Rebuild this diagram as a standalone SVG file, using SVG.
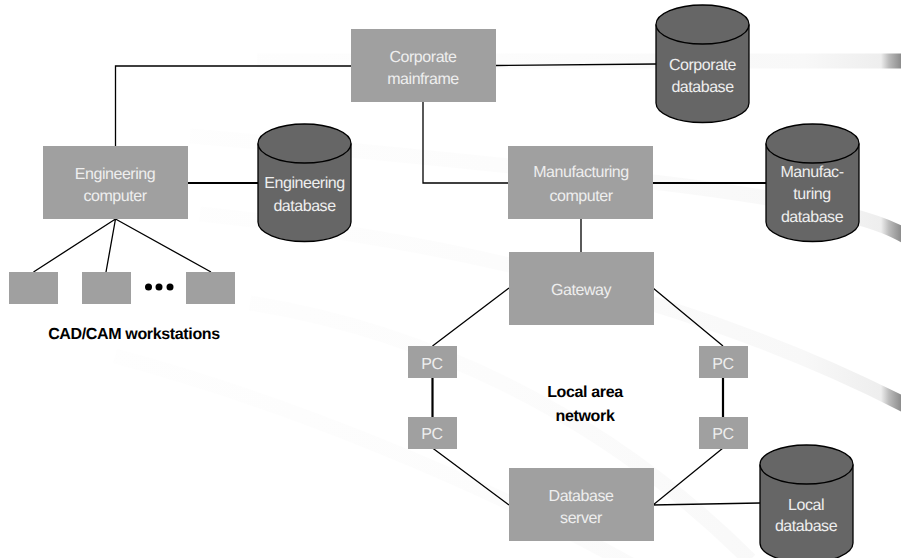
<svg xmlns="http://www.w3.org/2000/svg" width="901" height="558" viewBox="0 0 901 558">
<style>
.n{fill:#a0a0a0}
.db{fill:#666;stroke:#000;stroke-width:1.3}
text{font-family:"Liberation Sans",Arial,sans-serif;font-size:16px;letter-spacing:-.45px;text-anchor:middle;text-rendering:geometricPrecision}
.w{fill:#eee}
.b{fill:#000;font-weight:bold;letter-spacing:-.35px}
.c{fill:none;stroke:#000;stroke-width:1.3}
.t{stroke-width:2.2}
.sw{fill:none;stroke:url(#g);stroke-width:15}
</style>
<defs>
<linearGradient id="g" gradientUnits="userSpaceOnUse" x1="100" y1="0" x2="901" y2="0"><stop offset="0" stop-color="#fefefe"/><stop offset=".5" stop-color="#fcfcfc"/><stop offset=".88" stop-color="#f8f8f8"/><stop offset=".975" stop-color="#eee"/><stop offset=".985" stop-color="#bbb"/><stop offset="1" stop-color="#8c8c8c"/></linearGradient>
<g id="cyl"><path d="M0 19.5V98A46.5 19.5 0 0 0 93 98V19.5"/><ellipse cx="46.5" cy="19.5" rx="46.5" ry="19.5"/></g>
</defs>
<g id="background">
<path class="sw" d="M257 61H901"/>
<path class="sw" d="M190 136Q450 158 653 182T905 236"/>
<path class="sw" d="M200 214C450 240 700 300 905 405"/>
<path class="sw" d="M250 303C420 330 600 410 750 560"/>
<path class="sw" d="M115 356C280 400 480 480 640 570"/>
</g>
<g id="connectors">
<path class="c" d="M352 66H115.500V146"/>
<path class="c" d="M423 101V183H509"/>
<path class="c" d="M496 65.500L656 64"/>
<path class="c t" d="M187 183H258"/>
<path class="c t" d="M652 183H766"/>
<path class="c" d="M581 219V252"/>
<path class="c" d="M115.500 219L33.500 272M115.500 219L106 272M115.500 219L211 272"/>
<path class="c" d="M509 288L432.500 346M653 288L723 346"/>
<path class="c t" d="M432.500 378V418M723 378V418"/>
<path class="c" d="M432.500 448L509 505M723 448L653 505L760 503"/>
</g>
<g id="corporate-mainframe"><rect class="n" x="351" y="29" width="145" height="73"/><text class="w" x="423" y="62">Corporate</text><text class="w" x="423" y="84">mainframe</text></g>
<g id="corporate-database"><use href="#cyl" class="db" x="656" y="5"/><text class="w" x="702.500" y="70">Corporate</text><text class="w" x="702.500" y="92">database</text></g>
<g id="engineering-computer"><rect class="n" x="43" y="146" width="145" height="73"/><text class="w" x="115" y="179">Engineering</text><text class="w" x="115" y="201">computer</text></g>
<g id="engineering-database"><use href="#cyl" class="db" x="258" y="124"/><text class="w" x="304.500" y="188">Engineering</text><text class="w" x="304.500" y="211">database</text></g>
<g id="manufacturing-computer"><rect class="n" x="508" y="146" width="145" height="73"/><text class="w" x="581" y="177">Manufacturing</text><text class="w" x="581" y="201">computer</text></g>
<g id="manufacturing-database"><use href="#cyl" class="db" x="766" y="124"/><text class="w" x="812" y="177">Manufac-</text><text class="w" x="812" y="199">turing</text><text class="w" x="812" y="222">database</text></g>
<g id="workstation-1"><rect class="n" x="9" y="272" width="49" height="32"/></g>
<g id="workstation-2"><rect class="n" x="82" y="272" width="49" height="32"/></g>
<g id="workstation-3"><rect class="n" x="186" y="272" width="49" height="32"/></g>
<g id="ellipsis"><circle cx="148.500" cy="287" r="3.500"/><circle cx="159" cy="287" r="3.500"/><circle cx="170" cy="287" r="3.500"/></g>
<text class="b" x="134" y="339">CAD/CAM workstations</text>
<g id="gateway"><rect class="n" x="509" y="252" width="145" height="73"/><text class="w" x="581" y="295">Gateway</text></g>
<g id="pc-1"><rect class="n" x="408" y="346" width="49" height="32"/><text class="w" x="432" y="369">PC</text></g>
<g id="pc-2"><rect class="n" x="408" y="417" width="49" height="32"/><text class="w" x="432" y="439">PC</text></g>
<g id="pc-3"><rect class="n" x="699" y="346" width="49" height="32"/><text class="w" x="723" y="369">PC</text></g>
<g id="pc-4"><rect class="n" x="699" y="417" width="49" height="32"/><text class="w" x="723" y="439">PC</text></g>
<text class="b" x="585" y="397">Local area</text>
<text class="b" x="585" y="421">network</text>
<g id="database-server"><rect class="n" x="509" y="468" width="145" height="73"/><text class="w" x="581" y="501">Database</text><text class="w" x="581" y="523">server</text></g>
<g id="local-database"><use href="#cyl" class="db" x="760" y="445"/><text class="w" x="806" y="510">Local</text><text class="w" x="806" y="531">database</text></g>
</svg>
